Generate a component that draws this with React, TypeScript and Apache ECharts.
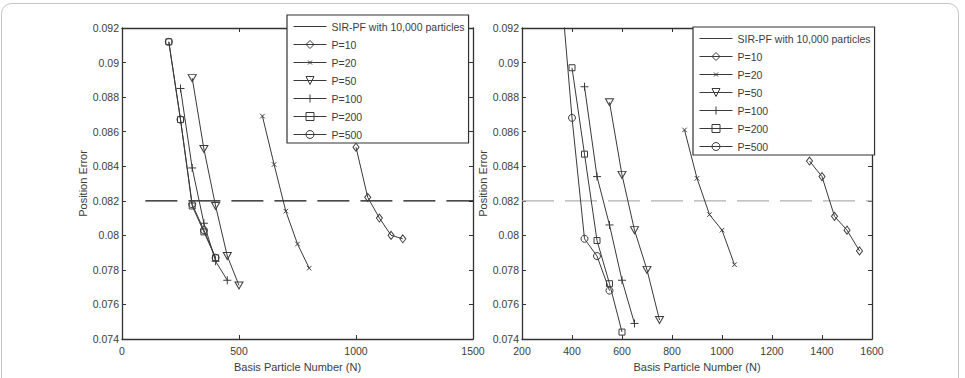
import React, { useEffect, useRef } from 'react';
import * as echarts from 'echarts';

// ---------- Data ----------
const seriesNames = ['SIR-PF with 10,000 particles', 'P=10', 'P=20', 'P=50', 'P=100', 'P=200', 'P=500'];

const xTicksLeft = [0, 500, 1000, 1500];
const xTicksRight = [200, 400, 600, 800, 1000, 1200, 1400, 1600];
const yTicks = [0.074, 0.076, 0.078, 0.08, 0.082, 0.084, 0.086, 0.088, 0.09, 0.092];

// reference (10,000-particle SIR-PF) error level
const refLevel = 0.082;
const leftRefX = [100, 1500];
const rightRefX = [200, 1600];

// left panel
const leftP10 = [[1000, 0.0851], [1050, 0.0822], [1100, 0.0810], [1150, 0.0800], [1200, 0.0798]];
const leftP20 = [[600, 0.0869], [650, 0.0841], [700, 0.0814], [750, 0.0795], [800, 0.0781]];
const leftP50 = [[300, 0.0891], [350, 0.0850], [400, 0.0817], [450, 0.0788], [500, 0.0771]];
const leftP100 = [[250, 0.0885], [300, 0.0839], [350, 0.0807], [400, 0.0785], [450, 0.0774]];
const leftP200 = [[200, 0.0912], [250, 0.0867], [300, 0.0817], [350, 0.0802], [400, 0.0787]];
const leftP500 = [[200, 0.0912], [250, 0.0867], [300, 0.0818], [350, 0.0803], [400, 0.0787]];

// right panel
const rightP10 = [[1350, 0.0843], [1400, 0.0834], [1450, 0.0811], [1500, 0.0803], [1550, 0.0791]];
const rightP20 = [[850, 0.0861], [900, 0.0833], [950, 0.0812], [1000, 0.0803], [1050, 0.0783]];
const rightP50 = [[550, 0.0877], [600, 0.0835], [650, 0.0803], [700, 0.0780], [750, 0.0751]];
const rightP100 = [[450, 0.0886], [500, 0.0834], [550, 0.0806], [600, 0.0774], [650, 0.0749]];
const rightP200 = [[400, 0.0897], [450, 0.0847], [500, 0.0797], [550, 0.0772], [600, 0.0744]];
const rightP500 = [[350, 0.0954], [400, 0.0868], [450, 0.0798], [500, 0.0788], [550, 0.0768]];

// ---------- Styles ----------
const FONT = '"Liberation Sans", Arial, Helvetica, sans-serif';
const LINE = '#3a3a3a';
const AXIS = '#333';
const TEXT = '#3c3c3c';

const markerDefs: Record<string, { symbol: string; size: number | number[] }> = {
  'P=10': { symbol: 'diamond', size: [6, 8] },
  'P=20': { symbol: 'path://M-5,-5M15,15M0,0L10,10M10,0L0,10', size: 9 },
  'P=50': { symbol: 'path://M0,0L10,0L5,8.5Z', size: [8, 7] },
  'P=100': { symbol: 'path://M5,0L5,10M0,5L10,5', size: 8 },
  'P=200': { symbol: 'rect', size: 6 },
  'P=500': { symbol: 'circle', size: 7 },
};

function pointSeries(name: string, data: number[][], idx: number) {
  const m = markerDefs[name];
  return {
    type: 'line',
    name,
    xAxisIndex: idx,
    yAxisIndex: idx,
    data,
    symbol: m.symbol,
    symbolSize: m.size,
    showSymbol: true,
    showAllSymbol: true,
    clip: true,
    lineStyle: { color: LINE, width: 1 },
    itemStyle: { color: 'rgba(0,0,0,0)', borderColor: LINE, borderWidth: 1 },
    emphasis: { disabled: true },
    z: 3,
  };
}

function refSeries(xs: number[], idx: number, color: string) {
  return {
    type: 'line',
    name: seriesNames[0],
    xAxisIndex: idx,
    yAxisIndex: idx,
    data: xs.map((x) => [x, refLevel]),
    symbol: 'none',
    lineStyle: { color, width: 1.2, type: [32, 11] },
    itemStyle: { color },
    emphasis: { disabled: true },
    z: 2,
  };
}

function legendData() {
  return seriesNames.map((n, i) =>
    i === 0
      ? {
          name: n,
          itemStyle: { color: 'rgba(0,0,0,0)', borderColor: 'rgba(0,0,0,0)', borderWidth: 0 },
          lineStyle: { color: LINE, width: 1, type: 'solid' },
        }
      : {
          name: n,
          itemStyle: { color: 'rgba(0,0,0,0)', borderColor: LINE, borderWidth: 1 },
          lineStyle: { color: LINE, width: 1, type: 'solid' },
        }
  );
}

function legendAt(left: number, top: number) {
  return {
    show: true,
    orient: 'vertical',
    left,
    top,
    align: 'left',
    itemWidth: 33,
    itemHeight: 10,
    itemGap: 7,
    padding: [6, 4, 3, 6],
    backgroundColor: '#fff',
    borderColor: AXIS,
    borderWidth: 1.2,
    borderRadius: 0,
    selectedMode: false,
    textStyle: { fontFamily: FONT, fontSize: 10.5, color: TEXT },
    data: legendData(),
    z: 10,
  };
}

function xAxes(grid: number, min: number, max: number, interval: number) {
  const common = {
    gridIndex: grid,
    type: 'value',
    min,
    max,
    interval,
    splitLine: { show: false },
    axisLine: { show: true, onZero: false, lineStyle: { color: AXIS, width: 1.3 } },
    axisTick: { show: true, inside: true, length: 4, lineStyle: { color: AXIS, width: 1 } },
  };
  return [
    {
      ...common,
      position: 'bottom',
      name: 'Basis Particle Number (N)',
      nameLocation: 'middle',
      nameGap: 22,
      nameTextStyle: { fontFamily: FONT, fontSize: 11, color: TEXT },
      axisLabel: {
        show: true,
        margin: 6,
        fontFamily: FONT,
        fontSize: 10.5,
        color: TEXT,
        formatter: (v: number) => String(Math.round(v)),
      },
    },
    { ...common, position: 'top', axisLabel: { show: false } },
  ];
}

function yAxes(grid: number) {
  const common = {
    gridIndex: grid,
    type: 'value',
    min: yTicks[0],
    max: yTicks[yTicks.length - 1],
    interval: 0.002,
    splitLine: { show: false },
    axisLine: { show: true, onZero: false, lineStyle: { color: AXIS, width: 1.3 } },
    axisTick: { show: true, inside: true, length: 4, lineStyle: { color: AXIS, width: 1 } },
  };
  return [
    {
      ...common,
      position: 'left',
      name: 'Position Error',
      nameLocation: 'middle',
      nameRotate: 90,
      nameGap: 33,
      nameTextStyle: { fontFamily: FONT, fontSize: 11, color: TEXT },
      axisLabel: {
        show: true,
        margin: 3,
        fontFamily: FONT,
        fontSize: 10.5,
        color: TEXT,
        formatter: (v: number) => String(+v.toFixed(3)),
      },
    },
    { ...common, position: 'right', axisLabel: { show: false } },
  ];
}

export default function App() {
  const ref = useRef<HTMLDivElement>(null);

  useEffect(() => {
    if (!ref.current) return;
    const chart = echarts.init(ref.current, null, { renderer: 'svg' });
    const option: any = {
      animation: false,
      backgroundColor: '#fff',
      grid: [
        { left: 122, top: 28, width: 351, height: 311 },
        { left: 522, top: 28, width: 350, height: 311 },
      ],
      xAxis: [
        ...xAxes(0, xTicksLeft[0], xTicksLeft[xTicksLeft.length - 1], 500),
        ...xAxes(1, xTicksRight[0], xTicksRight[xTicksRight.length - 1], 200),
      ],
      yAxis: [...yAxes(0), ...yAxes(1)],
      legend: [legendAt(287, 15), legendAt(693, 27)],
      series: [
        refSeries(leftRefX, 0, '#111'),
        pointSeries('P=10', leftP10, 0),
        pointSeries('P=20', leftP20, 0),
        pointSeries('P=50', leftP50, 0),
        pointSeries('P=100', leftP100, 0),
        pointSeries('P=200', leftP200, 0),
        pointSeries('P=500', leftP500, 0),
        refSeries(rightRefX, 2, '#b0b0b0'),
        pointSeries('P=10', rightP10, 2),
        pointSeries('P=20', rightP20, 2),
        pointSeries('P=50', rightP50, 2),
        pointSeries('P=100', rightP100, 2),
        pointSeries('P=200', rightP200, 2),
        pointSeries('P=500', rightP500, 2),
      ],
      graphic: [
        {
          type: 'rect',
          silent: true,
          z: -1,
          shape: { x: 1.5, y: 3.5, width: 957, height: 395, r: 10 },
          style: { fill: 'none', stroke: '#c4c4c4', lineWidth: 1 },
        },
      ],
    };
    chart.setOption(option);
    return () => chart.dispose();
  }, []);

  return (
    <div
      ref={ref}
      style={{ position: 'absolute', left: 0, top: 0, width: 965, height: 378, background: '#fff' }}
    />
  );
}
